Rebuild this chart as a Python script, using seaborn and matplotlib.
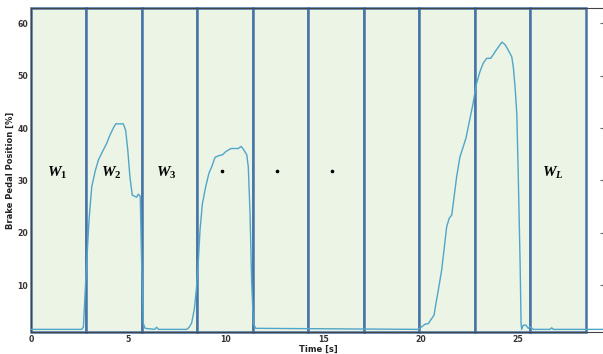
import numpy as np
import pandas as pd
import seaborn as sns
import matplotlib.pyplot as plt

# ── data ─────────────────────────────────────────────────────────────────
time_s = [0, 2.6, 2.69, 2.82, 2.98, 3.12, 3.29, 3.46, 3.63, 3.89, 4.06, 4.23, 4.35,
          4.74, 4.86, 4.97, 5.08, 5.20, 5.43, 5.51, 5.61, 5.68, 5.77, 5.86,
          6.35, 6.45, 6.55, 8.0, 8.12, 8.25, 8.39, 8.5, 8.6, 8.68, 8.80, 8.97,
          9.14, 9.28, 9.45, 9.62, 9.83, 10.0, 10.27, 10.65, 10.79, 10.90, 11.08,
          11.16, 11.25, 11.33, 11.42, 11.54, 19.89, 20.07, 20.24, 20.41, 20.53,
          20.70, 20.80, 20.92, 21.09, 21.21, 21.35, 21.48, 21.61, 21.73, 21.86,
          22.03, 22.17, 22.34, 22.51, 22.69, 22.86, 23.06, 23.23, 23.40, 23.61,
          23.74, 23.88, 24.05, 24.19, 24.35, 24.52, 24.69, 24.77, 24.86, 24.95,
          25.03, 25.12, 25.17, 25.20, 25.28, 25.42, 25.54, 25.63, 25.80, 26.65,
          26.74, 26.83, 29.5]
pedal_pct = [1.6, 1.6, 2.0, 11.6, 22.5, 28.8, 31.7, 33.9, 35.2, 37.1, 38.7, 40.0, 40.8,
             40.8, 39.6, 35.8, 30.7, 27.2, 26.8, 27.4, 27.0, 14.8, 2.7, 1.8,
             1.6, 2.0, 1.6, 1.6, 2.0, 2.8, 5.5, 9.5, 15.0, 20.5, 25.5, 28.8,
             31.4, 32.6, 34.4, 34.7, 34.9, 35.5, 36.1, 36.1, 36.5, 36.0, 34.9,
             32.6, 23.7, 11.0, 2.7, 1.8, 1.6, 2.1, 2.6, 2.7, 3.4,
             4.3, 6.6, 9.1, 12.9, 16.7, 21.2, 22.8, 23.4, 26.9, 30.7,
             34.5, 36.1, 38.1, 41.2, 44.4, 48.2, 50.8, 52.4, 53.3, 53.3,
             54.0, 54.8, 55.7, 56.4, 55.9, 54.8, 53.6, 51.7, 47.9, 42.8,
             30.1, 14.2, 2.7, 1.6, 2.4, 2.4, 1.8, 2.1, 1.6, 1.6,
             1.9, 1.6, 1.6]

window_edges = [0, 2.85, 5.7, 8.55, 11.4, 14.25, 17.1, 19.95, 22.8, 25.65, 28.5]
label_x = [1.32, 4.14, 6.97, 26.8]
label_txt = [r"$W_1$", r"$W_2$", r"$W_3$", r"$W_L$"]
dot_x = [9.8, 12.62, 15.45]
label_y = 31.5

# ── styling ──────────────────────────────────────────────────────────────
sns.set_theme(style="ticks")
plt.rcParams["font.family"] = ["DejaVu Sans"]
plt.rcParams["mathtext.fontset"] = "custom"
plt.rcParams["mathtext.it"] = "Liberation Serif:italic:bold"
plt.rcParams["mathtext.rm"] = "Liberation Serif:bold"

box_edge = "#4774a6"
box_fill = "#ecf4e5"
line_col = "#4fa5ca"

df = pd.DataFrame({"time": time_s, "pedal": pedal_pct})

fig = plt.figure(figsize=(6.03, 3.54), dpi=100)
ax = fig.add_axes([31 / 603, 22 / 354, 574 / 603, 324 / 354])

# ── windows ──────────────────────────────────────────────────────────────
for a, b in zip(window_edges[:-1], window_edges[1:]):
    ax.axvspan(a, b, facecolor=box_fill, edgecolor=box_edge, lw=1.8,
               clip_on=False, zorder=2.5)

sns.lineplot(data=df, x="time", y="pedal", ax=ax, color=line_col, lw=1.0,
             estimator=None, sort=False, zorder=3)

for x, t in zip(label_x, label_txt):
    ax.text(x, label_y, t, ha="center", va="center", fontsize=11, color="black", zorder=4)
ax.plot(dot_x, [label_y + 0.3] * len(dot_x), "o", color="black", ms=1.6, zorder=4)

# ── axes ────────────────────────────────────────────────────────────────
ax.set_xlim(0, 29.48)
ax.set_ylim(1.1, 62.9)
ax.set_xticks([0, 5, 10, 15, 20, 25])
ax.set_yticks([10, 20, 30, 40, 50, 60])
ax.tick_params(direction="in", length=3.5, width=0.8, top=True, right=True,
               labelsize=5.6, color="#666666", labelcolor="#333333", pad=2)
for lbl in ax.get_xticklabels() + ax.get_yticklabels():
    lbl.set_fontweight("bold")
for s in ax.spines.values():
    s.set_color("#444444")
    s.set_linewidth(0.8)
ax.set_xlabel("Time [s]", fontsize=6, fontweight="bold", labelpad=1, color="#222222")
ax.set_ylabel("Brake Pedal Position [%]", fontsize=6, fontweight="bold", labelpad=2,
              color="#222222")

fig.savefig("out.png", dpi=100)
